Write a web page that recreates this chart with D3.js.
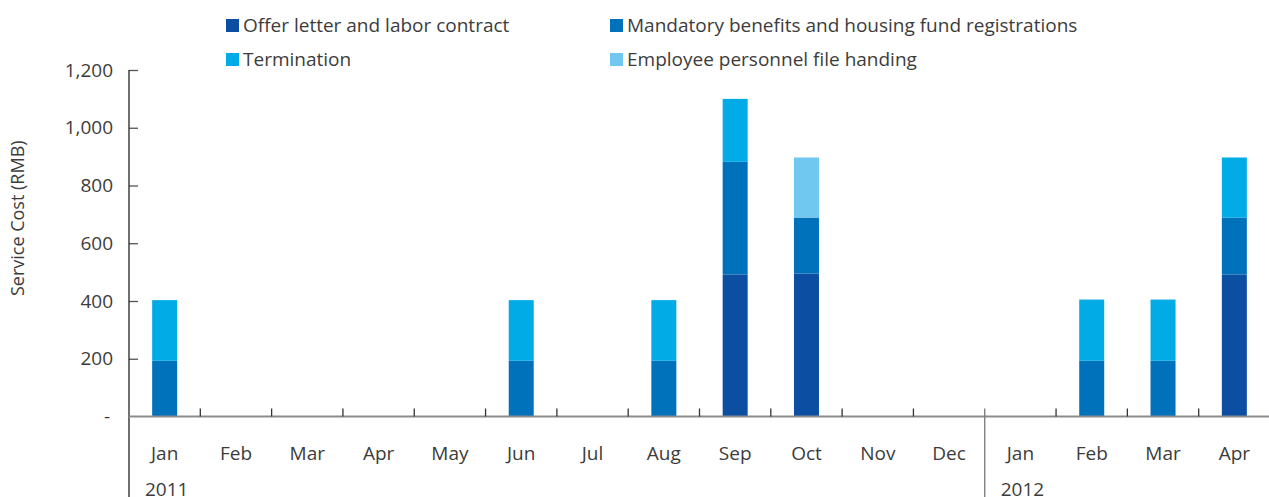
<!DOCTYPE html>
<html>
<head>
<meta charset="utf-8">
<script src="https://cdn.jsdelivr.net/npm/d3@7"></script>
<style>
  body { margin: 0; background: #fff; }
  text { font-family: "Open Sans", "Noto Sans", sans-serif; fill: #3c3c3c; }
</style>
</head>
<body>
<div id="chart"></div>
<script>
var width = 1269;
var height = 497;

// data
var months = ["Jan", "Feb", "Mar", "Apr", "May", "Jun", "Jul", "Aug", "Sep", "Oct", "Nov", "Dec", "Jan", "Feb", "Mar", "Apr"];
var years = [{ label: "2011", start: 0 }, { label: "2012", start: 12 }];
var seriesNames = ["Offer letter and labor contract", "Mandatory benefits and housing fund registrations", "Termination", "Employee personnel file handing"];
var offerLetter = [0, 0, 0, 0, 0, 0, 0, 0, 492, 495, 0, 0, 0, 0, 0, 492];
var mandatory   = [193, 0, 0, 0, 0, 193, 0, 193, 390, 194, 0, 0, 0, 193, 193, 197];
var termination = [210, 0, 0, 0, 0, 210, 0, 210, 218, 0, 0, 0, 0, 212, 212, 208];
var personnel   = [0, 0, 0, 0, 0, 0, 0, 0, 0, 208, 0, 0, 0, 0, 0, 0];
var yTicks = [0, 200, 400, 600, 800, 1000, 1200];
var colors = ["#0c4ea2", "#0071bb", "#00abe6", "#70c7ef"];

var plotLeft = 129, plotRight = 1270, plotTop = 70, plotBottom = 416.5;

var svg = d3.select("#chart")
  .append("svg")
  .attr("width", width)
  .attr("height", height);

var x = d3.scaleBand()
  .domain(d3.range(months.length))
  .range([plotLeft, plotRight])
  .padding(0);

var y = d3.scaleLinear()
  .domain([0, 1200])
  .range([plotBottom, plotTop]);

var rows = months.map(function(m, i) {
  return { i: i, s0: offerLetter[i], s1: mandatory[i], s2: termination[i], s3: personnel[i] };
});
var stacked = d3.stack().keys(["s0", "s1", "s2", "s3"])(rows);

var barW = 25;
stacked.forEach(function(layer, k) {
  svg.append("g")
    .attr("fill", colors[k])
    .selectAll("rect")
    .data(layer.filter(function(d) { return d[1] - d[0] > 0; }))
    .join("rect")
    .attr("x", function(d) { return x(d.data.i) + x.bandwidth() / 2 - barW / 2; })
    .attr("width", barW)
    .attr("y", function(d) { return y(d[1]); })
    .attr("height", function(d) { return y(d[0]) - y(d[1]); });
});

// y axis
var yAxis = svg.append("g")
  .attr("transform", "translate(" + plotLeft + ",0)")
  .call(d3.axisRight(y).tickValues(yTicks.slice(1)).tickSize(9).tickFormat(""));
yAxis.select(".domain").remove();
yAxis.selectAll("line").attr("stroke", "#555").attr("stroke-width", 1.3);
svg.append("line")
  .attr("x1", plotLeft).attr("x2", plotLeft)
  .attr("y1", plotTop).attr("y2", height)
  .attr("stroke", "#222").attr("stroke-width", 1.3);

svg.append("g")
  .selectAll("text")
  .data(yTicks)
  .join("text")
  .attr("x", function(d) { return d === 0 ? 110 : 113; })
  .attr("y", function(d) { return y(d); })
  .attr("dy", "0.35em")
  .attr("text-anchor", "end")
  .style("font-size", "19px")
  .text(function(d) { return d === 0 ? "-" : d3.format(",")(d); });

svg.append("text")
  .attr("transform", "translate(24," + ((plotTop + plotBottom) / 2 - 25) + ") rotate(-90)")
  .attr("text-anchor", "middle")
  .style("font-size", "18px")
  .text("Service Cost (RMB)");

// x axis
svg.append("line")
  .attr("x1", plotLeft).attr("x2", width)
  .attr("y1", plotBottom).attr("y2", plotBottom)
  .attr("stroke", "#8c8c8c").attr("stroke-width", 2);

svg.append("g")
  .selectAll("line")
  .data(d3.range(1, months.length))
  .join("line")
  .attr("x1", function(i) { return x(i); })
  .attr("x2", function(i) { return x(i); })
  .attr("y1", plotBottom - 8)
  .attr("y2", function(i) { return i === 12 ? height : plotBottom; })
  .attr("stroke", function(i) { return i === 12 ? "#777" : "#333"; })
  .attr("stroke-width", 1.3);

svg.append("g")
  .selectAll("text")
  .data(months)
  .join("text")
  .attr("x", function(d, i) { return x(i) + x.bandwidth() / 2; })
  .attr("y", 460)
  .attr("text-anchor", "middle")
  .style("font-size", "19px")
  .text(function(d) { return d; });

svg.append("g")
  .selectAll("text")
  .data(years)
  .join("text")
  .attr("x", function(d) { return x(d.start) + x.bandwidth() / 2 + 2; })
  .attr("y", 496)
  .attr("text-anchor", "middle")
  .style("font-size", "19px")
  .text(function(d) { return d.label; });

// legend
var legendPos = [[226, 19], [610, 19], [226, 53], [610, 53]];
var legend = svg.append("g")
  .selectAll("g")
  .data(seriesNames)
  .join("g")
  .attr("transform", function(d, i) { return "translate(" + legendPos[i][0] + "," + legendPos[i][1] + ")"; });
legend.append("rect")
  .attr("width", 13).attr("height", 13)
  .attr("fill", function(d, i) { return colors[i]; });
legend.append("text")
  .attr("x", 17)
  .attr("y", 6.5)
  .attr("dy", "0.35em")
  .style("font-size", "19px")
  .text(function(d) { return d; });
</script>
</body>
</html>
